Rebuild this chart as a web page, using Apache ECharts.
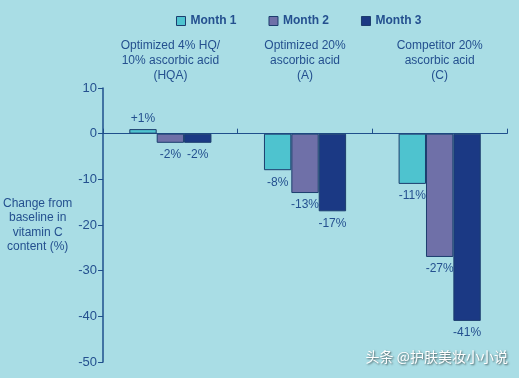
<!DOCTYPE html>
<html><head><meta charset="utf-8">
<script src="https://cdn.jsdelivr.net/npm/echarts@6/dist/echarts.min.js"></script>
<style>html,body{margin:0;padding:0;background:#a9dde5;}#c{width:519px;height:378px;}</style>
</head><body><div id="c"></div>
<script>
const categories = ["Optimized 4% HQ/\n10% ascorbic acid\n(HQA)", "Optimized 20%\nascorbic acid\n(A)", "Competitor 20%\nascorbic acid\n(C)"];
const seriesNames = ["Month 1", "Month 2", "Month 3"];
const month1 = [1, -8, -11];
const month2 = [-2, -13, -27];
const month3 = [-2, -17, -41];
const yTicks = [10, 0, -10, -20, -30, -40, -50];
const colors = ["#4ec3cf", "#6f70a8", "#1b3984"];
const txt = "#24508f";
const font = "'Liberation Sans Narrow','Liberation Sans',Arial,sans-serif";

function mk(name, vals, color) {
  return {
    name: name, type: 'bar', xAxisIndex: 0, yAxisIndex: 0,
    barGap: '0%', barCategoryGap: '39%',
    itemStyle: {color: color, borderColor: '#1c3d6e', borderWidth: 1},
    data: vals.map(v => ({
      value: v,
      label: {show: true, position: v >= 0 ? 'top' : 'bottom', distance: v >= 0 ? 4 : 6,
        formatter: (v > 0 ? '+' : '') + v + '%', color: txt, fontSize: 12, fontFamily: font}
    }))
  };
}
const chart = echarts.init(document.getElementById('c'));
chart.setOption({
  backgroundColor: '#a9dde5',
  textStyle: {fontFamily: font},
  legend: {
    data: seriesNames, left: 171, top: 10, itemWidth: 9, itemHeight: 9, itemGap: 32,
    icon: 'rect',
    itemStyle: {borderColor: '#1c3d6e', borderWidth: 1},
    textStyle: {color: txt, fontWeight: 'bold', fontSize: 12, fontFamily: font}
  },
  grid: {left: 99, right: 12, top: 88, bottom: 16},
  xAxis: [{
    type: 'category', data: categories, position: 'bottom',
    axisLine: {onZero: true, lineStyle: {color: '#1f4f8c', width: 1}},
    axisTick: {show: true, inside: true, length: 5, lineStyle: {color: '#1f4f8c'}},
    axisLabel: {show: false}
  }, {
    type: 'category', data: categories, position: 'top',
    axisLine: {show: false}, axisTick: {show: false},
    axisLabel: {color: txt, fontSize: 12, lineHeight: 15, margin: 5, fontFamily: font}
  }],
  yAxis: {
    type: 'value', min: -50, max: 10, interval: 10,
    name: 'Change from\nbaseline in\nvitamin C\ncontent (%)',
    nameLocation: 'middle', nameRotate: 0, nameGap: 64,
    nameTextStyle: {color: txt, fontSize: 12, lineHeight: 14.5, align: 'center', fontFamily: font},
    axisLine: {show: true, lineStyle: {color: '#1f4f8c', width: 1.5}},
    axisTick: {show: true, length: 5, lineStyle: {color: '#1f4f8c'}},
    axisLabel: {color: txt, fontSize: 13, margin: 6, fontFamily: font, formatter: v => yTicks.includes(v) ? String(v) : ''},
    splitLine: {show: false}
  },
  series: [mk(seriesNames[0], month1, colors[0]), mk(seriesNames[1], month2, colors[1]), mk(seriesNames[2], month3, colors[2])],
  graphic: [{
    type: 'text', right: 11, top: 350,
    style: {text: '头条 @护肤美妆小小说', fill: '#ffffff', fontSize: 14, fontFamily: "'Noto Sans CJK SC',sans-serif",
      textShadowColor: 'rgba(0,0,0,0.6)', textShadowBlur: 2, textShadowOffsetX: 1, textShadowOffsetY: 1}
  }]
});
</script></body></html>
